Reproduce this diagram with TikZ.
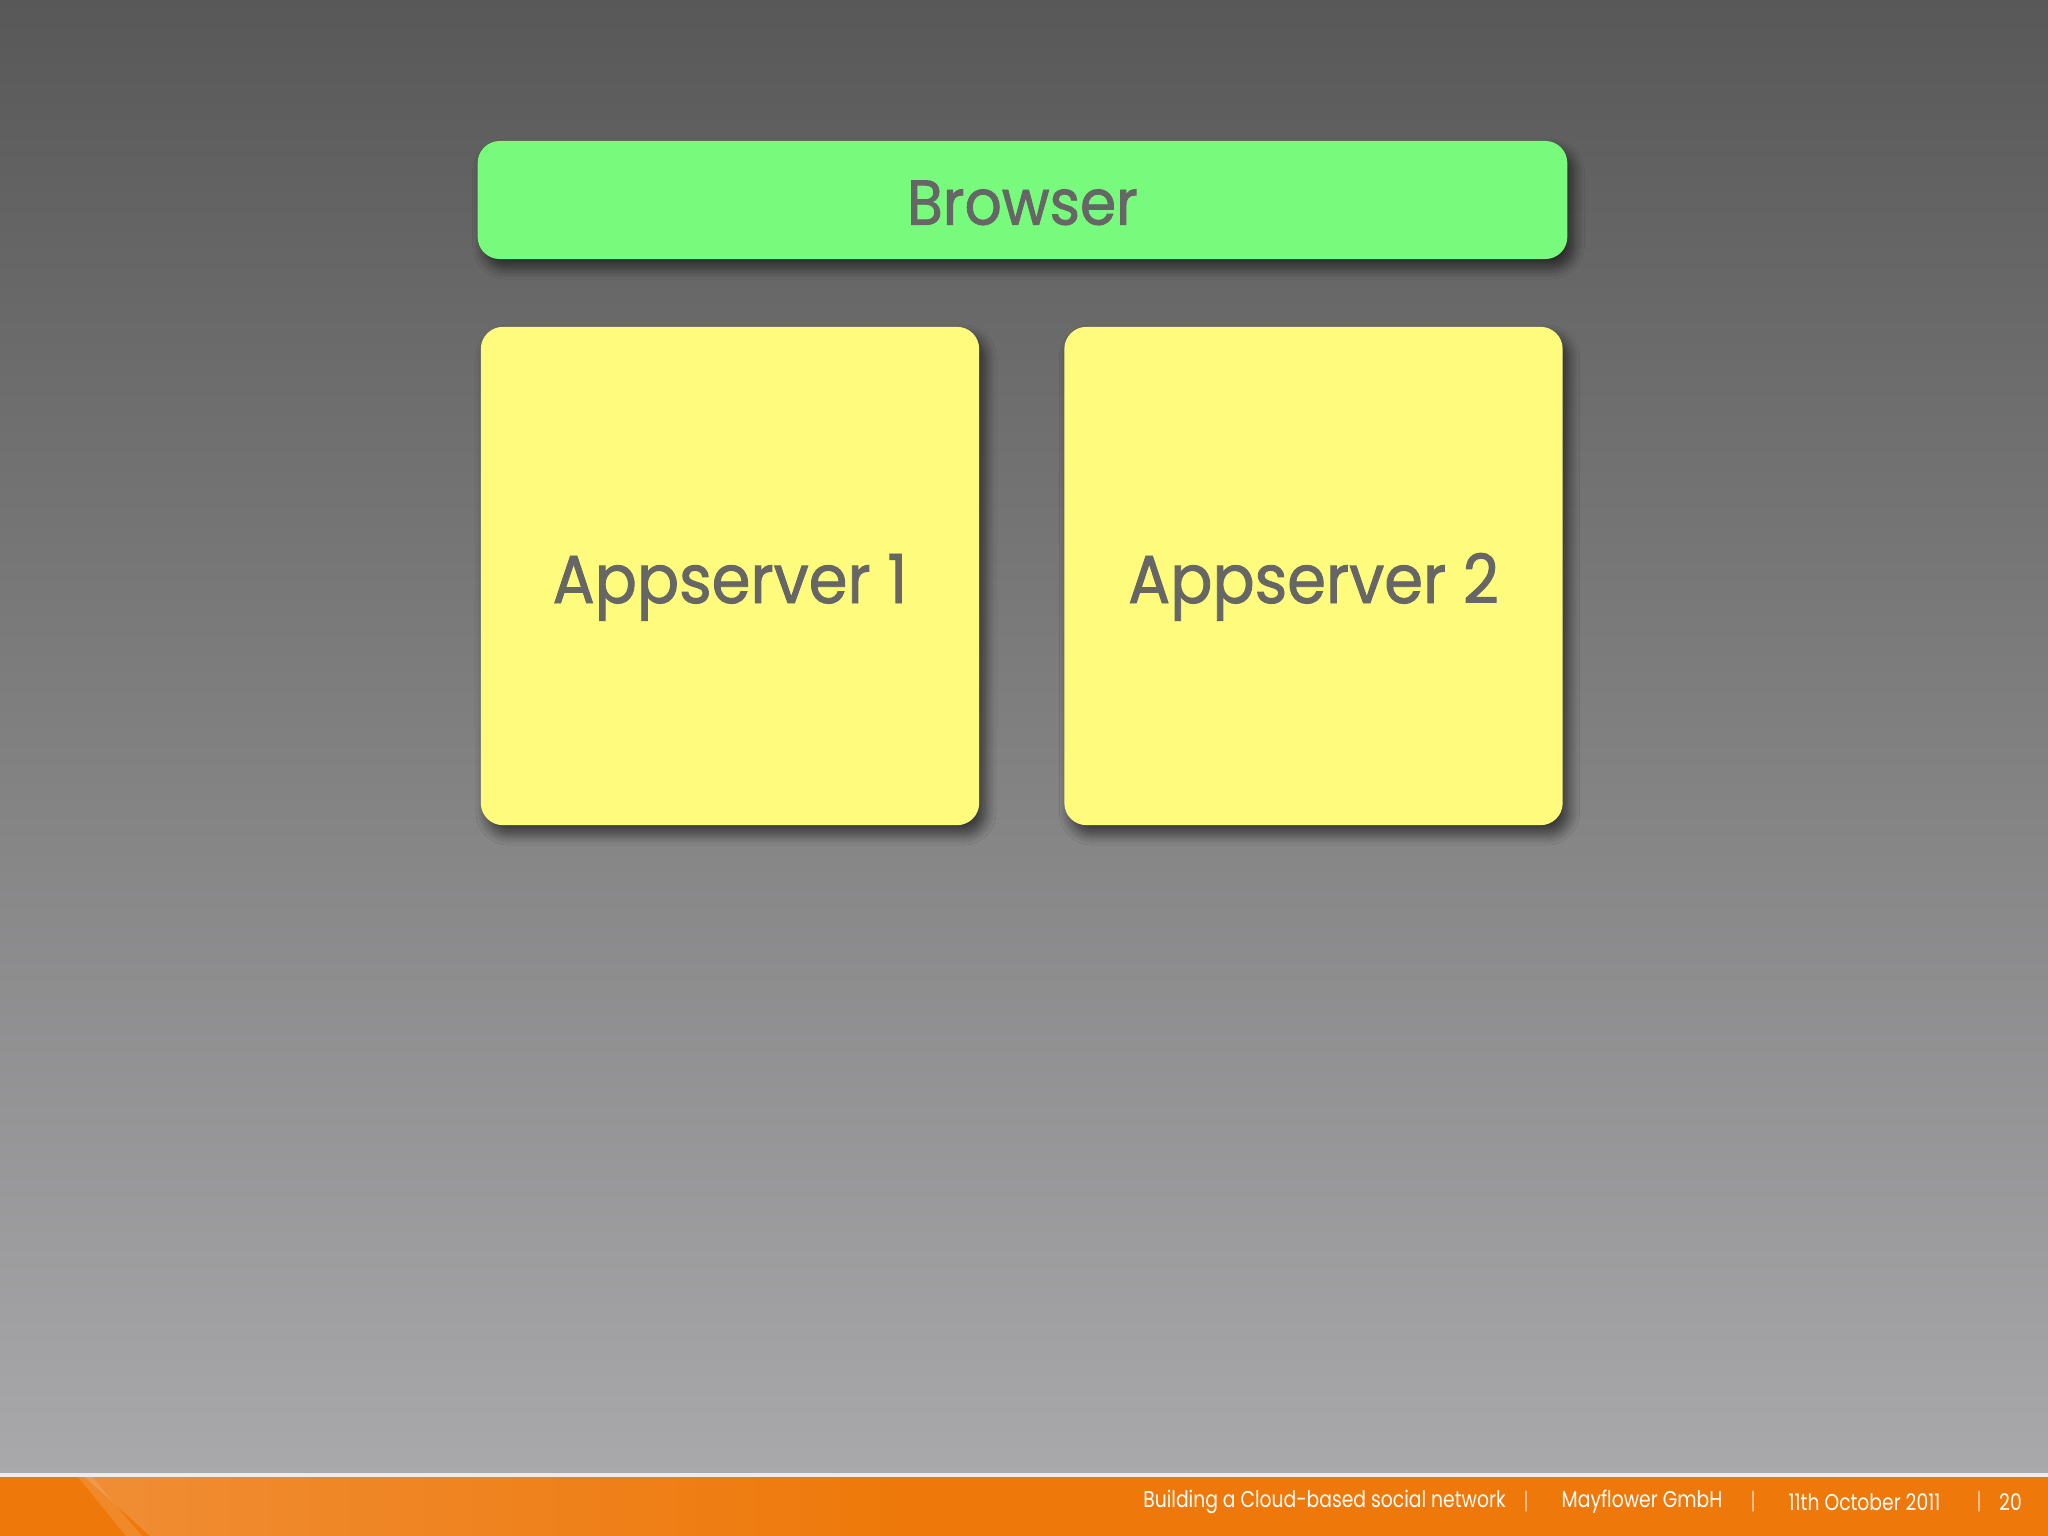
\documentclass[tikz,border=0pt]{standalone}
\usepackage{fontspec}
\setmainfont{Poppins}
\newfontfamily\boxfont[FakeStretch=0.92,FakeBold=1.3]{Poppins}
\newfontfamily\footfont[FakeStretch=0.82]{Poppins}
\usetikzlibrary{shadows,shadows.blur}
\definecolor{bgtop}{HTML}{585858}
\definecolor{bgbot}{HTML}{A9A8AA}
\definecolor{boxgreen}{HTML}{78FB7D}
\definecolor{boxyellow}{HTML}{FFFB7D}
\definecolor{txtgray}{HTML}{666666}
\definecolor{footorange}{HTML}{EE790A}
\definecolor{footlight}{HTML}{F08D34}
\tikzset{
  tile/.style={rounded corners=0.22cm, inner sep=0pt, text=txtgray,
    blur shadow={shadow xshift=0.06cm, shadow yshift=-0.09cm, shadow blur steps=10, shadow opacity=60, shadow blur radius=0.11cm}},
  greentile/.style={tile, fill=boxgreen, minimum width=10.89cm, minimum height=1.18cm,
    text height=0.55cm, text depth=0.058cm,
    font=\boxfont\fontsize{18}{21}\selectfont},
  yellowtile/.style={tile, fill=boxyellow, minimum width=4.98cm, minimum height=4.98cm,
    text height=0.6cm, text depth=0.06cm,
    font=\boxfont\fontsize{19.3}{23}\selectfont},
  foottext/.style={text=white, inner sep=0pt, font=\footfont\fontsize{6.5}{8}\selectfont},
  footsep/.style={text=white!60!footorange, inner sep=0pt, font=\footfont\fontsize{6.5}{8}\selectfont}
}
\begin{document}
\begin{tikzpicture}[x=0.01cm,y=-0.01cm]
\useasboundingbox (0,0) rectangle (2048,1536);
% background
\shade[top color=bgtop, bottom color=bgbot] (0,0) rectangle (2048,1475);
\fill[white!85!gray] (0,1473) rectangle (2048,1477);
\fill[footorange] (0,1477) rectangle (2048,1536);
\shade[left color=footlight, right color=footorange] (85,1477) -- (900,1477) -- (900,1536) -- (150,1536) -- cycle;
\fill[white, opacity=0.12] (78,1477) -- (92,1477) -- (142,1536) -- (126,1536) -- cycle;
% boxes
\node[greentile] (browser) at (1022.5,200) {Browser};
\node[yellowtile] (app1) at (730,576) {Appserver 1};
\node[yellowtile] (app2) at (1313.5,576) {Appserver 2};
% footer
\node[foottext] (f1) at (1324.5,1502) {Building a Cloud-based social network};
\node[footsep] (s1) at (1526,1502) {|};
\node[foottext] (f2) at (1642,1502) {Mayflower GmbH};
\node[footsep] (s2) at (1753,1502) {|};
\node[foottext] (f3) at (1864.5,1502) {11th October 2011};
\node[footsep] (s3) at (1979,1502) {|};
\node[foottext] (f4) at (2010.5,1502) {20};
\end{tikzpicture}
\end{document}
